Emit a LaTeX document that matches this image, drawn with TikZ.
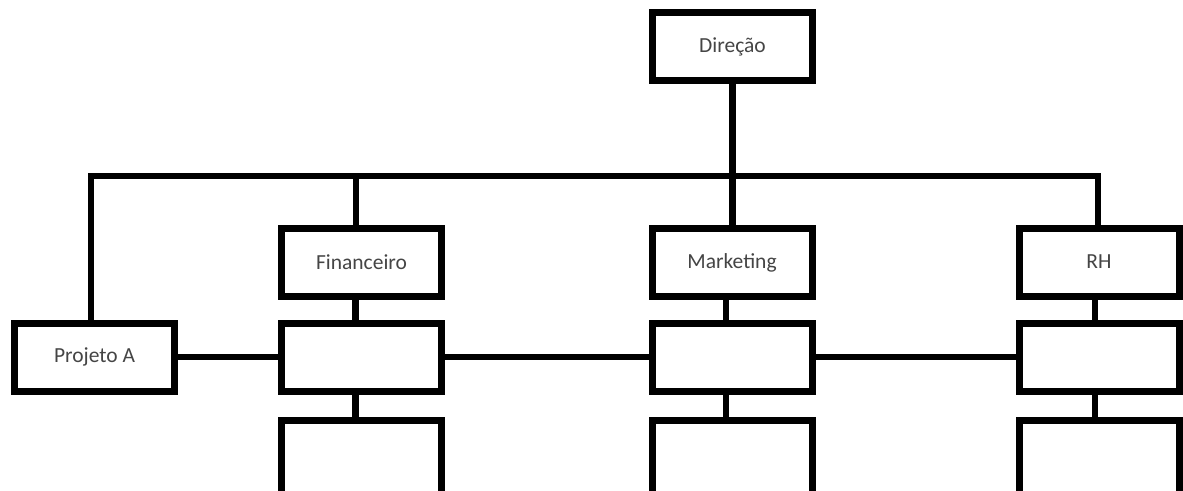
\documentclass[tikz,border=0pt]{standalone}
\usepackage{fontspec}
\setmainfont{Carlito}
\definecolor{txt}{HTML}{454545}
\begin{document}
\begin{tikzpicture}[x=1pt,y=-1pt,
  box/.style={draw=black,line width=7pt,fill=white,rectangle,minimum width=160pt,minimum height=68pt,inner sep=0pt,text=txt,font=\fontsize{21.5}{25}\selectfont},
  conn/.style={draw=black,line width=6.5pt},
  every node/.style={anchor=center}]
\useasboundingbox (0,0) rectangle (1183,490);
\fill[white] (0,0) rectangle (1183,490);
\clip (0,0) rectangle (1183,490);
% coordinates of the bus
\coordinate (bl) at (91,176);
\coordinate (bf) at (356,176);
\coordinate (br) at (1098,176);
% boxes
\node[box] (dir) at (732.5,46.5) {Direção};
\node[box] (proj) at (94.5,357) {Projeto A};
\node[box] (fin) at (361.5,262.5) {Financeiro};
\node[box] (mkt) at (732,262.5) {Marketing};
\node[box] (rh) at (1099,262) {RH};
\node[box] (fin2) at (361.5,357) {};
\node[box] (mkt2) at (732,357) {};
\node[box] (rh2) at (1099,357) {};
\node[box,minimum height=81pt] (fin3) at (361.5,460.5) {};
\node[box,minimum height=81pt] (mkt3) at (732,460.5) {};
\node[box,minimum height=81pt] (rh3) at (1099,460.5) {};
% bus
\draw[conn,line join=miter] (proj.north -| bl) -- (bl) -- (br) -- (rh.north -| br);
\draw[conn] (dir.south) -- (mkt.north -| dir.south);
\draw[conn] (bf) -- (fin.north -| bf);
% vertical links between stacked boxes
\draw[conn] ([xshift=-6pt]fin.south) -- ([xshift=-6pt]fin2.north);
\draw[conn] ([xshift=-6pt]fin2.south) -- ([xshift=-6pt]fin3.north);
\draw[conn] ([xshift=-6pt]mkt.south) -- ([xshift=-6pt]mkt2.north);
\draw[conn] ([xshift=-6pt]mkt2.south) -- ([xshift=-6pt]mkt3.north);
\draw[conn] ([xshift=-4pt]rh.south) -- ([xshift=-4pt]rh2.north);
\draw[conn] ([xshift=-4pt]rh2.south) -- ([xshift=-4pt]rh3.north);
% horizontal links
\draw[conn] (proj.east) -- (fin2.west);
\draw[conn] (fin2.east) -- (mkt2.west);
\draw[conn] (mkt2.east) -- (rh2.west);
\end{tikzpicture}
\end{document}
